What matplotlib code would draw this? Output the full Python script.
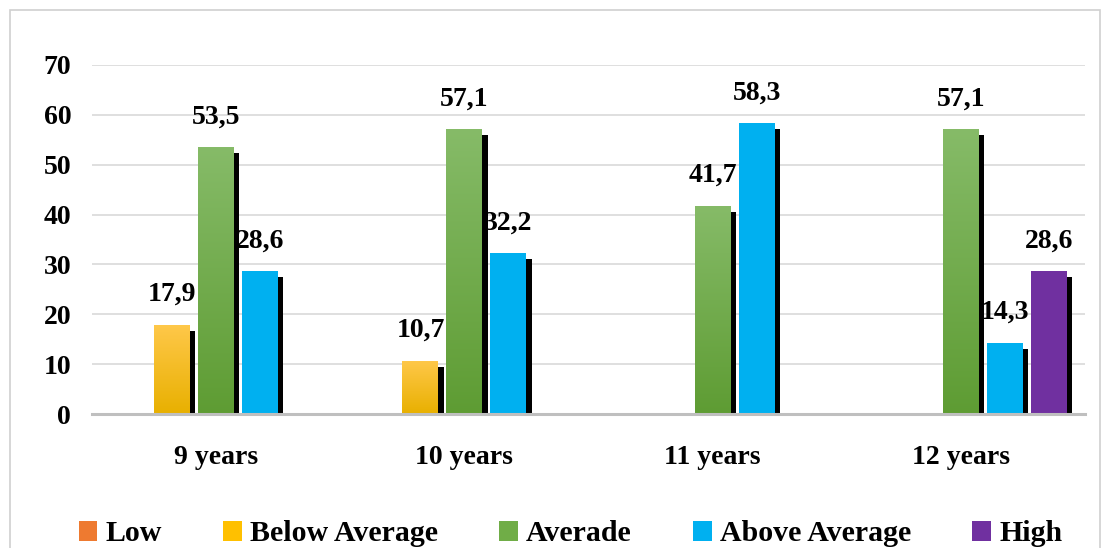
import numpy as np
import matplotlib
matplotlib.use("Agg")
import matplotlib.pyplot as plt
from matplotlib.colors import LinearSegmentedColormap
from matplotlib.patches import Rectangle, Patch

categories = ["9 years", "10 years", "11 years", "12 years"]
series_names = ["Low", "Below Average", "Averade", "Above Average", "High"]
low = [0, 0, 0, 0]
below_average = [17.9, 10.7, 0, 0]
averade = [53.5, 57.1, 41.7, 57.1]
above_average = [28.6, 32.2, 58.3, 14.3]
high = [0, 0, 0, 28.6]
yticks = [0, 10, 20, 30, 40, 50, 60, 70]

series_values = [low, below_average, averade, above_average, high]
# (top colour, bottom colour) for gradient fills
series_colors = [("#F4884C", "#E8661A"),
                 ("#FFC84A", "#E8B000"),
                 ("#86BB68", "#5E9C33"),
                 ("#00B0F0", "#00B0F0"),
                 ("#7030A0", "#7030A0")]

plt.rcParams['font.family'] = ['Liberation Serif', 'DejaVu Serif']
plt.rcParams['font.weight'] = 'bold'

FS = 20

fig = plt.figure(figsize=(11.10, 5.48), dpi=100)
ax = fig.add_axes([0.0829, 0.2445, 0.8946, 0.6369])

n = len(series_names)
slot = 0.177
width = 0.145
x = np.arange(len(categories))
dx = 0.021   # shadow offset (category units)
dy = 1.2     # shadow offset (value units)

for i, (vals, (ctop, cbot)) in enumerate(zip(series_values, series_colors)):
    pos = x + (i - (n - 1) / 2) * slot
    for xp, v in zip(pos, vals):
        if v <= 0:
            continue
        # shadow
        ax.bar(xp + dx, v - dy, width=width, color="black", zorder=2, linewidth=0)
        b = ax.bar(xp, v, width=width, color=ctop, zorder=3, linewidth=0)[0]
        if ctop != cbot:
            cmap = LinearSegmentedColormap.from_list("g", [cbot, ctop])
            grad = np.linspace(0, 1, 256).reshape(-1, 1)
            im = ax.imshow(grad, cmap=cmap, origin="lower", aspect="auto",
                           extent=(xp - width / 2, xp + width / 2, 0, v), zorder=3.5)
            im.set_clip_path(b)
        ax.annotate(f"{v:.1f}".replace(".", ","), (xp, v), xytext=(0, 13),
                    textcoords="offset points", ha="center", va="bottom",
                    fontsize=FS, fontweight="bold", zorder=5)

ax.set_xlim(-0.5, len(categories) - 0.5)
ax.set_ylim(0, 70)
ax.set_yticks(yticks)
ax.set_yticklabels([str(t) for t in yticks], fontsize=FS, fontweight="bold")
ax.set_xticks(x)
ax.set_xticklabels(categories, fontsize=FS, fontweight="bold")
ax.tick_params(axis="both", length=0)
ax.tick_params(axis="y", pad=15)
ax.tick_params(axis="x", pad=22)
ax.grid(axis="y", color="#D9D9D9", linewidth=1.2, zorder=0)
ax.set_axisbelow(True)
for s in ["top", "right", "left"]:
    ax.spines[s].set_visible(False)
ax.spines["bottom"].set_color("#BFBFBF")
ax.spines["bottom"].set_linewidth(2.2)
ax.spines["bottom"].set_zorder(4)

handles = [Patch(facecolor="#EE7A30", edgecolor="none"),
           Patch(facecolor="#FFC000", edgecolor="none"),
           Patch(facecolor="#70AD47", edgecolor="none"),
           Patch(facecolor="#00B0F0", edgecolor="none"),
           Patch(facecolor="#7030A0", edgecolor="none")]
leg = fig.legend(handles, series_names, loc="center", bbox_to_anchor=(0.514, 0.026),
                 ncol=5, frameon=False, handlelength=0.63,
                 handleheight=0.66, handletextpad=0.27, columnspacing=2.05,
                 borderpad=0, prop={"weight": "bold", "size": 21.5})

fig.patches.append(Rectangle((0.009, -0.05), 0.982, 1.032, transform=fig.transFigure,
                             fill=False, edgecolor="#D0D0D0", linewidth=1.2))

fig.savefig("out.png", dpi=100)
